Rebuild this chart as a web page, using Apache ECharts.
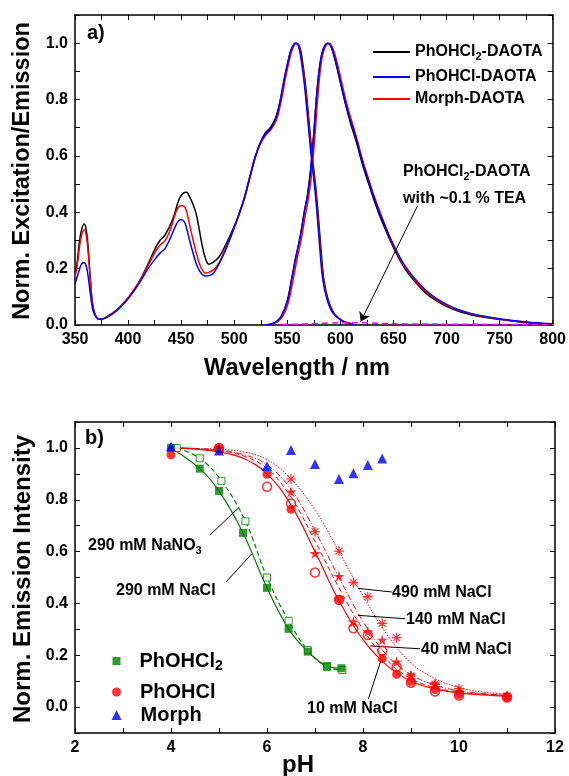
<!DOCTYPE html>
<html><head><meta charset="utf-8">
<script src="https://cdn.jsdelivr.net/npm/echarts@6/dist/echarts.min.js"></script>
<style>html,body{margin:0;padding:0;background:#fff}#c{width:569px;height:776px}</style>
</head><body><div id="c"></div><script>
// ================= DATA =================
// Panel a) : [wavelength nm, normalized intensity]
const excPhOHCl2 = [[350,0.18],[352,0.22],[354,0.29],[356,0.335],[358.5,0.358],[360.5,0.34],[362.5,0.27],[364.5,0.16],[367,0.065],[370,0.03],[374,0.02],[380,0.028],[390,0.055],[400,0.095],[410,0.15],[418,0.21],[425,0.267],[430,0.3],[435,0.32],[442,0.374],[448,0.445],[452,0.468],[455,0.471],[458,0.455],[461,0.43],[464,0.397],[467,0.34],[470,0.279],[473,0.235],[476,0.216],[480,0.222],[486,0.243],[492,0.285],[500,0.35],[505,0.4],[510,0.458],[515,0.53],[520,0.6],[525,0.65],[529,0.68],[534,0.7],[539,0.735],[543,0.79],[547,0.87],[551,0.94],[554,0.98],[558,1.0],[561.5,0.99],[564.5,0.93],[567.5,0.84],[570.5,0.72],[573.5,0.6],[576.5,0.5],[578.5,0.42],[581.5,0.28],[584.5,0.16],[588.5,0.09],[593.5,0.045],[600,0.02],[605,0.01],[612,0.003]];
const excPhOHCl = [[350,0.145],[352,0.17],[354,0.195],[356,0.215],[358.5,0.222],[360.5,0.21],[362.5,0.17],[364.5,0.11],[367,0.05],[370,0.027],[374,0.02],[380,0.027],[390,0.053],[400,0.093],[410,0.145],[418,0.195],[425,0.232],[430,0.255],[435,0.272],[440,0.31],[444,0.345],[447,0.367],[450,0.374],[453,0.366],[455,0.345],[458,0.3],[462,0.245],[465,0.21],[469,0.183],[473,0.174],[477,0.176],[481,0.186],[490,0.25],[500,0.345],[505,0.398],[510,0.456],[515,0.53],[520,0.6],[525,0.65],[529,0.675],[534,0.695],[539,0.73],[543,0.79],[547,0.87],[551,0.94],[554,0.98],[557.5,1.0],[560.5,0.99],[563.5,0.93],[566.5,0.84],[569.5,0.72],[572.5,0.6],[575.5,0.5],[577.5,0.42],[580.5,0.28],[583.5,0.16],[587.5,0.09],[592.5,0.045],[600,0.018],[605,0.009],[612,0.003]];
const excMorph = [[350,0.172],[352,0.21],[354,0.27],[356,0.315],[358.5,0.338],[360.5,0.32],[362.5,0.255],[364.5,0.155],[367,0.062],[370,0.03],[374,0.02],[380,0.03],[390,0.057],[400,0.097],[410,0.15],[418,0.205],[425,0.255],[430,0.283],[435,0.3],[440,0.34],[445,0.4],[448,0.42],[451,0.424],[454,0.415],[456,0.39],[459,0.338],[463,0.275],[467,0.22],[470,0.195],[473,0.184],[478,0.19],[483,0.205],[490,0.255],[500,0.345],[505,0.395],[510,0.452],[515,0.525],[520,0.595],[525,0.645],[530,0.675],[535,0.695],[540,0.73],[544,0.79],[548,0.87],[552,0.94],[555,0.98],[558.5,1.0],[561,0.99],[564,0.93],[567,0.84],[570,0.72],[573,0.6],[576,0.5],[578,0.42],[581,0.28],[584,0.16],[588,0.09],[593,0.045],[600,0.02],[605,0.01],[612,0.003]];
const emPhOHCl2 = [[530,0],[535,0.004],[540,0.012],[545,0.035],[550,0.085],[554,0.16],[558,0.24],[562,0.31],[566,0.4],[569,0.46],[572,0.55],[575,0.68],[578,0.83],[581,0.93],[584,0.98],[588,1.0],[591,0.99],[595,0.94],[600,0.86],[605,0.78],[610,0.71],[615,0.65],[620,0.58],[625,0.52],[632,0.44],[640,0.36],[650,0.275],[660,0.205],[670,0.155],[680,0.115],[690,0.087],[700,0.066],[710,0.05],[720,0.039],[730,0.031],[745,0.022],[760,0.015],[780,0.007],[800,0.003]];
const emPhOHCl = [[530,0],[535,0.004],[540,0.012],[545,0.035],[550,0.085],[554,0.16],[558,0.24],[562,0.31],[566,0.4],[569,0.46],[572,0.55],[575,0.68],[578,0.83],[581,0.93],[584,0.98],[588,1.0],[591,0.99],[595,0.945],[600,0.865],[605,0.785],[610,0.72],[615,0.66],[620,0.59],[625,0.53],[632,0.45],[640,0.37],[650,0.285],[660,0.215],[670,0.165],[680,0.125],[690,0.095],[700,0.073],[710,0.056],[720,0.044],[730,0.035],[745,0.025],[760,0.017],[780,0.009],[800,0.004]];
const emMorph = [[531,0],[536,0.004],[541,0.012],[546,0.033],[551,0.08],[555,0.15],[559,0.23],[563,0.3],[567,0.39],[570,0.45],[573,0.54],[576,0.67],[579,0.82],[582,0.93],[585,0.98],[589,1.0],[592,0.99],[596,0.945],[601,0.865],[606,0.785],[611,0.72],[616,0.655],[621,0.585],[626,0.525],[633,0.445],[641,0.365],[650,0.28],[660,0.21],[670,0.16],[680,0.12],[690,0.092],[700,0.07],[710,0.054],[720,0.043],[730,0.034],[745,0.024],[760,0.016],[780,0.008],[800,0.003]];
const emPhOHCl2TEA = [[545,0.002],[560,0.003],[575,0.005],[590,0.007],[605,0.008],[620,0.008],[635,0.006],[660,0.004],[700,0.003],[750,0.002],[800,0.001]];

// Panel b) : pH and normalized emission intensity
const pH_Cl2_NaCl   = [4.0, 4.6, 5.0, 5.5, 6.0, 6.45, 6.85, 7.25, 7.55];
const val_Cl2_NaCl  = [1.0, 0.92, 0.834, 0.672, 0.46, 0.302, 0.214, 0.158, 0.15];
const pH_Cl2_NaNO3  = [4.12, 4.6, 5.05, 5.55, 6.0, 6.45, 6.85, 7.25, 7.57];
const val_Cl2_NaNO3 = [1.0, 0.96, 0.873, 0.717, 0.5, 0.333, 0.22, 0.155, 0.143];
const pH_Cl_10   = [4.0, 5.0, 6.0, 6.5, 7.5, 8.4, 8.7, 9.0, 9.5, 10.0, 11.0];
const val_Cl_10  = [0.973, 0.996, 0.898, 0.763, 0.416, 0.187, 0.126, 0.099, 0.068, 0.049, 0.039];
const pH_Cl_40   = [5.0, 6.0, 6.5, 7.0, 7.5, 7.8, 8.1, 8.4, 8.7, 9.0, 9.5, 10.0, 11.0];
const val_Cl_40  = [1.0, 0.85, 0.786, 0.519, 0.413, 0.304, 0.278, 0.217, 0.156, 0.094, 0.06, 0.045, 0.037];
const pH_Cl_140  = [5.0, 6.5, 7.0, 7.5, 7.8, 8.1, 8.4, 8.7, 9.0, 9.5, 10.0, 11.0];
const val_Cl_140 = [1.0, 0.831, 0.593, 0.505, 0.329, 0.291, 0.259, 0.175, 0.124, 0.091, 0.062, 0.043];
const pH_Cl_490  = [5.0, 6.5, 7.0, 7.5, 7.8, 8.1, 8.4, 8.7, 9.0, 9.5, 10.0, 11.0];
const val_Cl_490 = [1.0, 0.88, 0.677, 0.602, 0.48, 0.426, 0.323, 0.268, 0.12, 0.088, 0.071, 0.043];
const pH_Morph   = [4.0, 5.0, 6.0, 6.5, 7.0, 7.5, 7.8, 8.1, 8.4];
const val_Morph  = [1.005, 0.99, 0.93, 0.992, 0.938, 0.88, 0.902, 0.934, 0.959];
// fitted curves
const pH_fit     = [4.0, 4.5, 5.0, 5.5, 6.0, 6.5, 7.0, 7.5, 8.0, 8.5, 9.0, 9.5, 10.0, 10.5, 11.0];
const fit_Cl_10  = [1.0, 0.995, 0.985, 0.96, 0.9, 0.78, 0.6, 0.41, 0.26, 0.16, 0.1, 0.07, 0.055, 0.047, 0.042];
const fit_Cl_40  = [1.0, 0.997, 0.99, 0.97, 0.92, 0.81, 0.64, 0.46, 0.3, 0.18, 0.11, 0.075, 0.058, 0.05, 0.045];
const fit_Cl_140 = [1.0, 0.998, 0.99, 0.975, 0.935, 0.84, 0.68, 0.5, 0.33, 0.2, 0.125, 0.085, 0.063, 0.052, 0.045];
const fit_Cl_490 = [1.0, 0.998, 0.995, 0.985, 0.955, 0.88, 0.76, 0.6, 0.43, 0.28, 0.17, 0.11, 0.075, 0.058, 0.05];

// axis ranges / tick settings
const wlRange = [350, 800], wlStep = 25, wlLabelStep = 50;
const pHRange = [2, 12], pHStep = 1, pHLabelStep = 2;
const intRangeA = [0, 1.1], intRangeB = [-0.1, 1.1], intStep = 0.1;

// ================= CHART =================
const FF = '"Liberation Sans", Arial, Helvetica, sans-serif';
const zip = (xs, ys) => xs.map((x, i) => [x, ys[i]]);
const BLACK = '#000', BLUE = '#0000ff', RED = '#ff0000', GREEN = '#008000', MAG = '#ff00ff';

function xAx(grid, range, step, labelStep, pos) {
  return {
    gridIndex: grid, type: 'value', position: pos, min: range[0], max: range[1], interval: step,
    axisLine: { show: true, onZero: false, lineStyle: { color: BLACK, width: 1.5 } },
    axisTick: { show: true, inside: true, length: 5, lineStyle: { color: BLACK, width: 1 } },
    axisLabel: pos === 'bottom' ? {
      show: true, color: BLACK, fontSize: 16, fontWeight: 'bold', fontFamily: FF, margin: 7,
      formatter: v => (Math.round(v) % labelStep === 0 ? String(Math.round(v)) : '')
    } : { show: false },
    splitLine: { show: false }
  };
}
function yAx(grid, range, pos) {
  return {
    gridIndex: grid, type: 'value', position: pos, min: range[0], max: range[1], interval: intStep,
    axisLine: { show: true, onZero: false, lineStyle: { color: BLACK, width: 1.5 } },
    axisTick: { show: true, inside: true, length: 5, lineStyle: { color: BLACK, width: 1 } },
    axisLabel: pos === 'left' ? {
      show: true, color: BLACK, fontSize: 16, fontWeight: 'bold', fontFamily: FF, margin: 7,
      formatter: v => { const r = Math.round(v * 10); return (r % 2 === 0 && r >= 0 && r <= 10) ? (r / 10).toFixed(1) : ''; }
    } : { show: false },
    splitLine: { show: false }
  };
}

function spec(name, data, color, z) {
  return { name, type: 'line', xAxisIndex: 0, yAxisIndex: 0, data, smooth: 0.4, symbol: 'none',
    lineStyle: { color, width: 1.5 }, itemStyle: { color }, z: z };
}
function fitLine(name, data, color, type, width) {
  return { name, type: 'line', xAxisIndex: 2, yAxisIndex: 2, data, smooth: 0.4, symbol: 'none',
    lineStyle: { color, width: width || 1, type }, itemStyle: { color }, z: 2 };
}
function scat(name, data, symbol, size, itemStyle) {
  return { name, type: 'scatter', xAxisIndex: 2, yAxisIndex: 2, data, symbol, symbolSize: size, itemStyle, z: 5 };
}
const STAR = 'path://M0,-1L0.2245,-0.309L0.951,-0.309L0.363,0.118L0.588,0.809L0,0.382L-0.588,0.809L-0.363,0.118L-0.951,-0.309L-0.2245,-0.309Z';
const ASTER = 'path://M0,-1L0,1M-1,0L1,0M-0.7,-0.7L0.7,0.7M-0.7,0.7L0.7,-0.7';

const richFor = (fs) => ({
  sub: { fontSize: Math.round(fs * 0.68), fontWeight: 'bold', fontFamily: FF, color: BLACK, lineHeight: Math.round(fs * 0.68), verticalAlign: 'bottom' },
  sp: { width: 14, fontSize: fs, lineHeight: fs }
});
const fmtName = n => n.replace('Cl2', 'Cl{sub|2}');

function legendAt(name, left, top, iw, ih, fs, lh, icon, spacer) {
  const lg = {
    data: [name], left, top, orient: 'vertical', padding: 0, itemWidth: iw, itemHeight: ih, selectedMode: false,
    formatter: n => (spacer ? '{sp|}' : '') + fmtName(n),
    textStyle: { color: BLACK, fontSize: fs, fontWeight: 'bold', fontFamily: FF, lineHeight: lh, rich: richFor(fs) }
  };
  if (icon) lg.icon = icon;
  return lg;
}

function txt(text, x, y, fs, align, rot, lh) {
  const st = { text, fontSize: fs, fontWeight: 'bold', fontFamily: FF, fill: BLACK,
    align: align || 'left', verticalAlign: 'middle', textAlign: align || 'left', textVerticalAlign: 'middle',
    rich: richFor(fs) };
  if (lh) st.lineHeight = lh;
  return { type: 'text', x, y, rotation: rot || 0, style: st, z: 100 };
}

const ml = (pairs, arrow) => ({
  silent: true, animation: false, symbol: arrow ? ['none', 'arrow'] : ['none', 'none'], symbolSize: 9,
  label: { show: false }, lineStyle: { color: BLACK, width: 1, type: 'solid' },
  data: pairs.map(p => [{ coord: p[0] }, { coord: p[1] }])
});

const option = {
  animation: false,
  backgroundColor: '#fff',
  grid: [
    { left: 75, right: 13, top: 15, height: 310 },
    { left: 75, right: 14, top: 422, height: 311 }
  ],
  xAxis: [
    xAx(0, wlRange, wlStep, wlLabelStep, 'bottom'),
    xAx(0, wlRange, wlStep, wlLabelStep, 'top'),
    xAx(1, pHRange, pHStep, pHLabelStep, 'bottom'),
    xAx(1, pHRange, pHStep, pHLabelStep, 'top')
  ],
  yAxis: [
    yAx(0, intRangeA, 'left'), yAx(0, intRangeA, 'right'),
    yAx(1, intRangeB, 'left'), yAx(1, intRangeB, 'right')
  ],
  legend: [
    legendAt('PhOHCl2-DAOTA', 373, 42, 37, 2, 16, 20, 'rect'),
    legendAt('PhOHCl-DAOTA', 373, 67, 37, 2, 16, 20, 'rect'),
    legendAt('Morph-DAOTA', 373, 89, 37, 2, 16, 20, 'rect'),
    legendAt('PhOHCl2', 112.5, 649, 8, 8, 20, 24, null, true),
    legendAt('PhOHCl', 112, 680, 9, 9, 20, 24, null, true),
    legendAt('Morph', 111.5, 703, 10, 10, 20, 24, null, true)
  ],
  series: [
    spec('PhOHCl2-DAOTA', excPhOHCl2, BLACK, 2),
    spec('PhOHCl2-DAOTA', emPhOHCl2, BLACK, 2),
    spec('Morph-DAOTA', excMorph, RED, 3),
    spec('Morph-DAOTA', emMorph, RED, 3),
    spec('PhOHCl-DAOTA', excPhOHCl, BLUE, 4),
    spec('PhOHCl-DAOTA', emPhOHCl, BLUE, 4),
    { name: 'PhOHCl2-DAOTA + TEA', type: 'line', xAxisIndex: 0, yAxisIndex: 0, data: emPhOHCl2TEA, smooth: 0.4,
      symbol: 'none', lineStyle: { color: MAG, width: 1.5, type: [6, 4] }, z: 5,
      markLine: ml([[[672.8, 0.4235], [619.2, 0.012]]], true) },

    fitLine('fit 290 mM NaCl', zip(pH_Cl2_NaCl, val_Cl2_NaCl), GREEN, 'solid', 1.2),
    fitLine('fit 290 mM NaNO3', zip(pH_Cl2_NaNO3, val_Cl2_NaNO3), GREEN, [5, 3], 1.2),
    Object.assign(fitLine('fit 10 mM NaCl', zip(pH_fit, fit_Cl_10), RED, 'solid', 1.2), {
      markLine: ml([
        [[4.81, 0.664], [5.40, 0.767]],
        [[5.15, 0.483], [5.68, 0.591]],
        [[7.90, 0.458], [8.60, 0.444]],
        [[7.89, 0.354], [8.875, 0.341]],
        [[8.15, 0.236], [9.19, 0.225]],
        [[8.37, 0.178], [8.11, 0.030]]
      ])
    }),
    fitLine('fit 40 mM NaCl', zip(pH_fit, fit_Cl_40), RED, [5, 3], 1),
    fitLine('fit 140 mM NaCl', zip(pH_fit, fit_Cl_140), RED, [6, 2, 1, 2], 1),
    fitLine('fit 490 mM NaCl', zip(pH_fit, fit_Cl_490), RED, [1.5, 1.5], 1),

    scat('PhOHCl2 NaNO3', zip(pH_Cl2_NaNO3, val_Cl2_NaNO3), 'rect', 7, { color: '#fff', borderColor: GREEN, borderWidth: 1 }),
    scat('PhOHCl2', zip(pH_Cl2_NaCl, val_Cl2_NaCl), 'rect', 8, { color: GREEN }),
    scat('PhOHCl', zip(pH_Cl_10, val_Cl_10), 'circle', 9, { color: RED }),
    scat('PhOHCl 40', zip(pH_Cl_40, val_Cl_40), 'circle', 9, { color: 'rgba(255,255,255,0)', borderColor: RED, borderWidth: 1.5 }),
    scat('PhOHCl 140', zip(pH_Cl_140, val_Cl_140), STAR, 11, { color: RED }),
    scat('PhOHCl 490', zip(pH_Cl_490, val_Cl_490), ASTER, 10, { color: 'rgba(0,0,0,0)', borderColor: RED, borderWidth: 1.2 }),
    scat('Morph', zip(pH_Morph, val_Morph), 'triangle', 10, { color: BLUE })
  ],
  graphic: [
    txt('a)', 87, 33, 20),
    txt('b)', 85, 438, 20),
    txt('Norm. Excitation/Emission', 23, 171, 23.5, 'center', Math.PI / 2),
    txt('Wavelength / nm', 297, 369, 23.5, 'center'),
    txt('PhOHCl{sub|2}-DAOTA', 403, 172, 16, 'left', 0, 20),
    txt('with ~0.1 % TEA', 403, 199, 16),
    txt('Norm. Emission Intensity', 23, 579, 24, 'center', Math.PI / 2),
    txt('pH', 298, 765, 24, 'center'),
    txt('290 mM NaNO{sub|3}', 88, 546, 16, 'left', 0, 20),
    txt('290 mM NaCl', 116, 591, 16),
    txt('490 mM NaCl', 392, 593, 16),
    txt('140 mM NaCl', 406, 620, 16),
    txt('40 mM NaCl', 421, 650, 16),
    txt('10 mM NaCl', 307, 709, 16)
  ]
};

const chart = echarts.init(document.getElementById('c'), null, { renderer: 'canvas' });
chart.setOption(option);
</script></body></html>
